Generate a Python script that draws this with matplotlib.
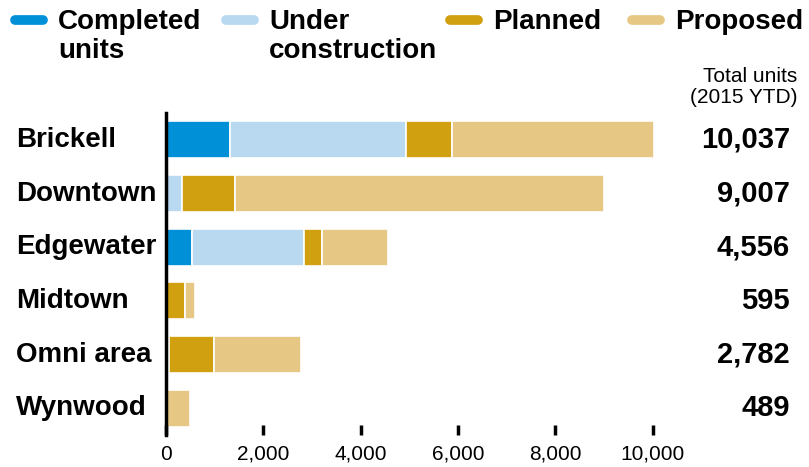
import matplotlib
matplotlib.use("agg")
import matplotlib.pyplot as plt
import matplotlib.transforms as mtransforms
from matplotlib.lines import Line2D
import numpy as np

# units by neighborhood, 2015 YTD
neighborhoods = ["Brickell", "Downtown", "Edgewater", "Midtown", "Omni area", "Wynwood"]
completed = [1315, 0, 534, 0, 0, 0]
under_construction = [3618, 335, 2295, 0, 60, 0]
planned = [938, 1083, 370, 390, 935, 0]
proposed = [4166, 7589, 1357, 205, 1787, 489]
totals = [10037, 9007, 4556, 595, 2782, 489]

series_names = ["Completed\nunits", "Under\nconstruction", "Planned", "Proposed"]
series_colors = ["#0090d8", "#b9d9f0", "#d0a010", "#e6c884"]
xticks = [0, 2000, 4000, 6000, 8000, 10000]

plt.rcParams['font.family'] = ['Liberation Sans', 'DejaVu Sans']

W, H = 809, 467
fig = plt.figure(figsize=(W / 100, H / 100), dpi=100)
ax = fig.add_axes([166 / W, 1 - 435 / H, 511 / W, 322 / H])

y = np.arange(len(neighborhoods))
left = np.zeros(len(neighborhoods))
for vals, col in zip([completed, under_construction, planned, proposed], series_colors):
    vals = np.array(vals, dtype=float)
    ax.barh(y, vals, left=left, height=0.69, color=col, edgecolor="white", linewidth=1.2)
    left += vals

ax.set_xlim(0, 10500)
ax.set_ylim(5.5, -0.5)

for s in ["top", "right", "bottom"]:
    ax.spines[s].set_visible(False)
ax.spines["left"].set_linewidth(2.5)
ax.spines["left"].set_color("black")

ax.set_xticks(xticks)
ax.set_xticklabels([f"{v:,}" for v in xticks])
ax.tick_params(axis="x", direction="in", length=7, width=2.5, pad=7, labelsize=15)
ax.tick_params(axis="y", left=False, labelleft=False)

# row labels on the left, totals on the right
trans = mtransforms.blended_transform_factory(fig.transFigure, ax.transData)
for i, (name, tot) in enumerate(zip(neighborhoods, totals)):
    ax.text(16 / W, i, name, transform=trans, ha="left", va="center",
            fontsize=20, fontweight="bold")
    ax.text(790 / W, i, f"{tot:,}", transform=trans, ha="right", va="center",
            fontsize=21, fontweight="bold")

fig.text(797 / W, 1 - 87 / H, "Total units\n(2015 YTD)", ha="right", va="center",
         fontsize=15, linespacing=1.1)

# legend across the top
handle_x = [12, 223, 447, 629]
for hx, name, col in zip(handle_x, series_names, series_colors):
    fig.add_artist(Line2D([(hx + 3) / W, (hx + 31) / W], [1 - 20 / H, 1 - 20 / H],
                          transform=fig.transFigure, color=col, lw=7,
                          solid_capstyle="round"))
    fig.text((hx + 46) / W, 1 - 9 / H, name, ha="left", va="top",
             fontsize=20, fontweight="bold", linespacing=1.15)

fig.savefig("out.png", dpi=100)
